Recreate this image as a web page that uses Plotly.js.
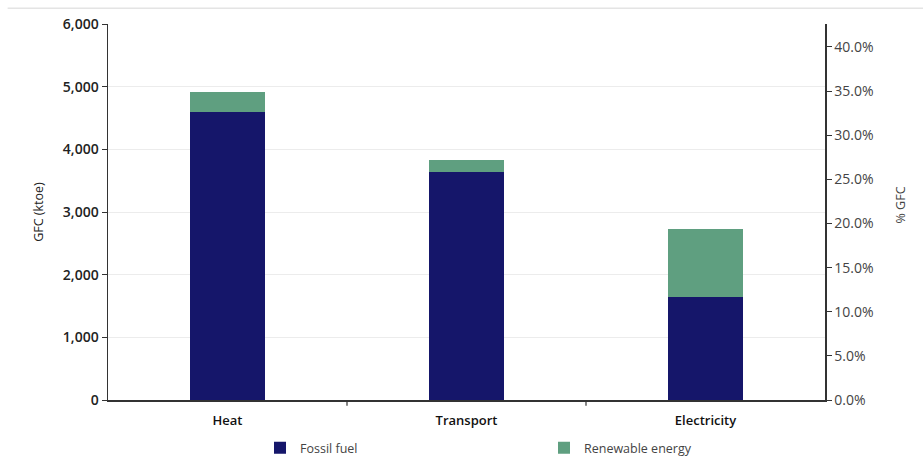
<!DOCTYPE html>
<html>
<head>
<meta charset="utf-8">
<script src="https://cdn.plot.ly/plotly-3.0.1.min.js"></script>
<style>html,body{margin:0;padding:0;background:#fff;}#chart{width:923px;height:457px;}</style>
</head>
<body>
<div id="chart"></div>
<script>
const categories = ["Heat", "Transport", "Electricity"];
const fossilFuel = [4600, 3640, 1650];
const renewableEnergy = [310, 190, 1080];
const leftTicks = [0, 1000, 2000, 3000, 4000, 5000, 6000];
const rightTicks = [0, 0.05, 0.10, 0.15, 0.20, 0.25, 0.30, 0.35, 0.40];

const font = "'Open Sans', 'Noto Sans', sans-serif";

const traces = [
  {type: "bar", name: "Fossil fuel", x: categories, y: fossilFuel,
   marker: {color: "#15166a"}},
  {type: "bar", name: "Renewable energy", x: categories, y: renewableEnergy,
   marker: {color: "#5f9f80"}},
  {type: "scatter", x: categories, y: [null, null, null], yaxis: "y2",
   showlegend: false, hoverinfo: "skip", mode: "markers"}
];

const layout = {
  width: 923, height: 457,
  margin: {l: 108, r: 98, t: 24, b: 57, autoexpand: false},
  barmode: "stack",
  bargap: 0.69,
  paper_bgcolor: "#fff", plot_bgcolor: "#fff",
  font: {family: font, size: 12, color: "#222"},
  xaxis: {
    type: "category",
    showline: true, linecolor: "#333", linewidth: 1.5,
    ticks: "", tickfont: {size: 13, color: "#111", weight: 600},
    ticklabelstandoff: 8,
    showgrid: false,
    zeroline: false
  },
  yaxis: {
    range: [0, 6000], tickvals: leftTicks, tickformat: ",d",
    showline: true, linecolor: "#333", linewidth: 1.5,
    ticks: "outside", ticklen: 5, tickcolor: "#333",
    gridcolor: "#ececec", gridwidth: 1,
    zeroline: false,
    tickfont: {size: 14, color: "#222", weight: 600},
    title: {text: "GFC (ktoe)", font: {size: 12.5, color: "#222"}, standoff: 16}
  },
  yaxis2: {
    overlaying: "y", side: "right",
    range: [0, 0.426], tickvals: rightTicks, tickformat: ".1%",
    showline: true, linecolor: "#333", linewidth: 1.5,
    ticks: "outside", ticklen: 5, tickcolor: "#333",
    showgrid: false, zeroline: false,
    tickfont: {size: 14, color: "#444"}
  },
  legend: {
    orientation: "h", x: 0.212, xanchor: "left", y: -0.128, yanchor: "middle",
    font: {size: 12.5, color: "#444"}, entrywidth: 239, traceorder: "normal"
  },
  annotations: [
    {text: "% GFC", xref: "paper", yref: "paper", x: 1.1046, y: 0.52,
     xanchor: "center", yanchor: "middle",
     textangle: -90, showarrow: false, font: {size: 12.5, color: "#444"}}
  ],
  shapes: [
    {type: "line", xref: "paper", yref: "paper", x0: -0.14, x1: 1.15, y0: 1.042, y1: 1.042,
     line: {color: "#e4e4e4", width: 1.5}},
    {type: "line", xref: "paper", yref: "paper", x0: 1/3, x1: 1/3, y0: 0, y1: -0.015,
     line: {color: "#333", width: 1.2}},
    {type: "line", xref: "paper", yref: "paper", x0: 2/3, x1: 2/3, y0: 0, y1: -0.015,
     line: {color: "#333", width: 1.2}}
  ]
};

Plotly.newPlot("chart", traces, layout, {displayModeBar: false, staticPlot: true});
</script>
</body>
</html>
